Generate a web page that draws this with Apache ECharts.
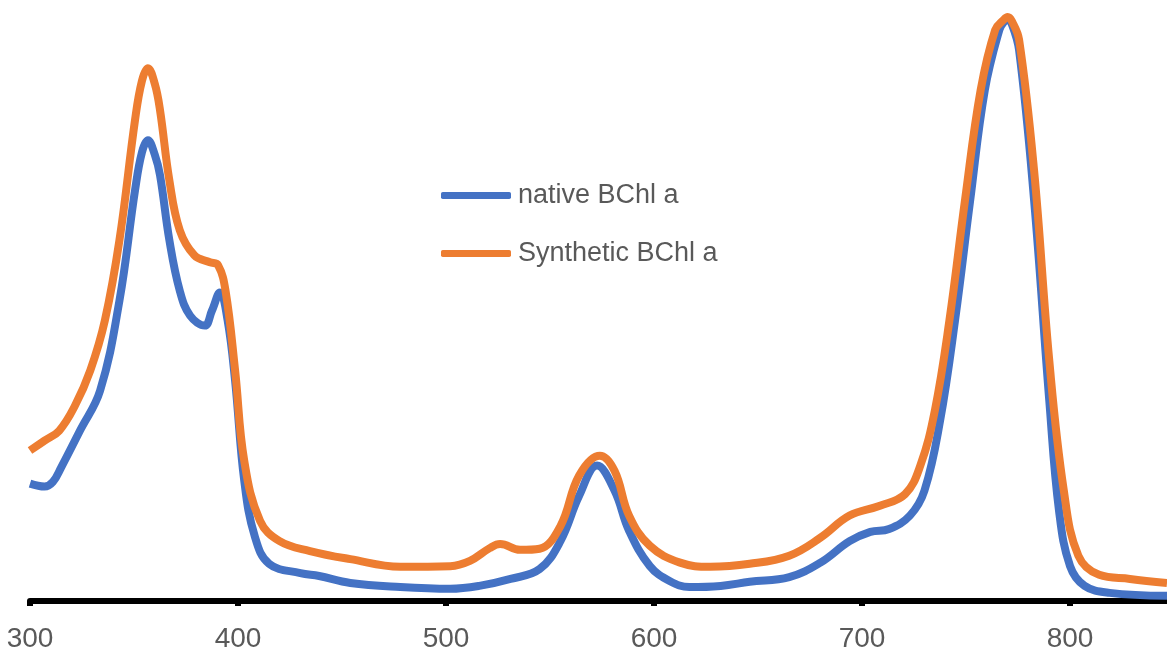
<!DOCTYPE html>
<html>
<head>
<meta charset="utf-8">
<script src="https://cdn.jsdelivr.net/npm/echarts@6/dist/echarts.min.js"></script>
<style>
html,body{margin:0;padding:0;background:#fff;}
#c{width:1167px;height:654px;}
</style>
</head>
<body>
<div id="c"></div>
<script>
// Wavelength (nm) and normalized absorbance
const nativeWl = [300,307,311,315,324,333.7,343,350.5,353.8,356.7,360,362.5,367,372,377,384,387.5,391.3,395,398.6,403,408,415,430,439,454,478,502,516,531,545,555,564,572.6,581,588,598,607.7,617,632,646,665,680,694,704,713,723,730,737.5,744.7,752,759,766,768.3,770,772,775.5,782.7,790,794.7,800,807,819,846.6];
const nativeAbs = [0.202,0.197,0.205,0.230,0.293,0.362,0.517,0.707,0.772,0.793,0.768,0.733,0.621,0.534,0.491,0.474,0.500,0.531,0.483,0.379,0.207,0.112,0.064,0.048,0.043,0.031,0.024,0.021,0.026,0.038,0.055,0.103,0.181,0.233,0.190,0.121,0.060,0.034,0.024,0.026,0.033,0.041,0.066,0.103,0.119,0.124,0.147,0.190,0.310,0.483,0.690,0.879,0.983,0.997,1.000,0.993,0.948,0.690,0.345,0.155,0.060,0.026,0.014,0.009];
const synthWl = [300,307,314,321.6,329,336,343,350.5,353.8,356.7,360,362.5,367,372,379,386.5,390.4,394,398.6,403,410.6,420,434.6,454,478,502,511.5,521,526,535.6,545,555,564,574,581,588,598,612.5,627,646,665,680,694,708.6,720.7,728,735,742,749.5,757,764,768,770,772,775.5,782.7,790,797,804,814,828.8,846.6];
const synthAbs = [0.259,0.276,0.293,0.336,0.397,0.483,0.621,0.828,0.895,0.917,0.890,0.845,0.724,0.638,0.595,0.583,0.578,0.534,0.397,0.241,0.138,0.103,0.086,0.072,0.059,0.060,0.069,0.091,0.098,0.088,0.090,0.129,0.216,0.250,0.224,0.147,0.095,0.066,0.059,0.064,0.078,0.109,0.147,0.164,0.184,0.233,0.328,0.483,0.690,0.879,0.983,1.000,1.005,0.998,0.966,0.741,0.414,0.190,0.078,0.045,0.038,0.031];
const seriesNames = ['native BChl a','Synthetic BChl a'];
const xTicks = [300,400,500,600,700,800];

const pair = (xs, ys) => xs.map((x, i) => [x, ys[i]]);

const chart = echarts.init(document.getElementById('c'));
chart.setOption({
  animation: false,
  backgroundColor: '#ffffff',
  grid: { left: 30, right: 0, top: 0, bottom: 53, containLabel: false },
  legend: {
    orient: 'vertical',
    left: 436,
    top: 177,
    itemWidth: 70,
    itemHeight: 7,
    itemGap: 31,
    icon: 'roundRect',
    textStyle: { fontFamily: 'Liberation Sans', fontSize: 27, color: '#595959', padding: [0, 0, 0, 2] },
    data: seriesNames
  },
  xAxis: {
    type: 'value',
    min: 300,
    max: 846.6,
    interval: 100,
    splitLine: { show: false },
    axisLine: { show: true, lineStyle: { color: '#000', width: 6 } },
    axisTick: { show: true, length: 5, lineStyle: { color: '#000', width: 6 } },
    axisLabel: {
      show: true, margin: 24, fontSize: 28, color: '#595959', fontFamily: 'Liberation Sans',
      showMaxLabel: false,
      formatter: v => xTicks.includes(v) ? String(v) : ''
    }
  },
  yAxis: {
    type: 'value',
    min: 0,
    max: 1.0344,
    show: false,
    splitLine: { show: false }
  },
  series: [
    {
      name: seriesNames[0], type: 'line', data: pair(nativeWl, nativeAbs),
      smooth: 0.4, symbol: 'none', clip: true, z: 2,
      lineStyle: { color: '#4472C4', width: 8 }, itemStyle: { color: '#4472C4' }
    },
    {
      name: seriesNames[1], type: 'line', data: pair(synthWl, synthAbs),
      smooth: 0.4, symbol: 'none', clip: true, z: 3,
      lineStyle: { color: '#ED7D31', width: 8 }, itemStyle: { color: '#ED7D31' }
    }
  ]
});
</script>
</body>
</html>
